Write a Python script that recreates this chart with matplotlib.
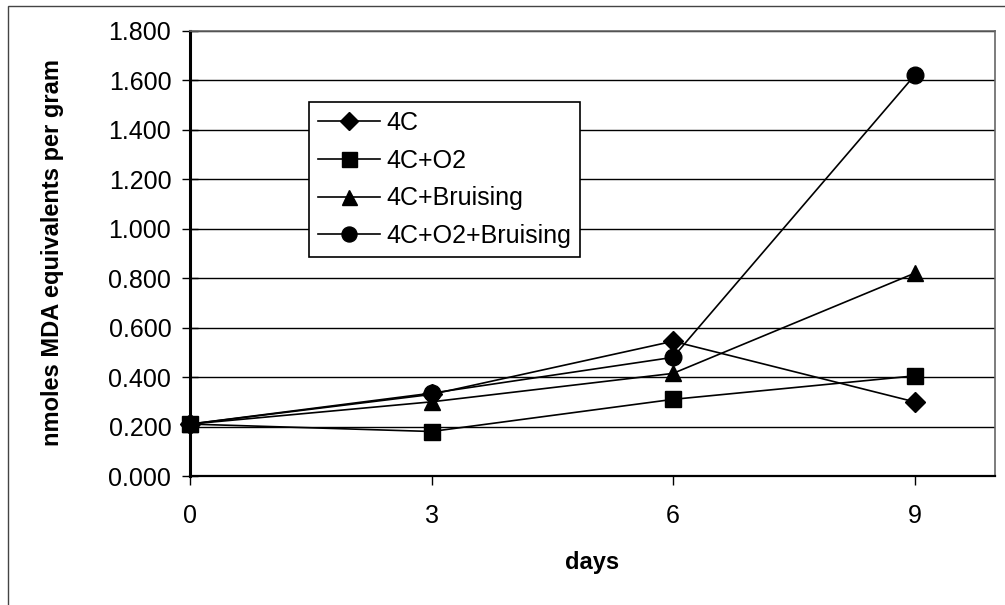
import matplotlib.pyplot as plt
from matplotlib.patches import Rectangle

plt.rcParams['font.family'] = ['Liberation Sans', 'DejaVu Sans']

days = [0, 3, 6, 9]
labels = ["4C", "4C+O2", "4C+Bruising", "4C+O2+Bruising"]
mda_4c = [0.21, 0.33, 0.545, 0.30]
mda_4c_o2 = [0.21, 0.18, 0.31, 0.405]
mda_4c_bruising = [0.21, 0.30, 0.415, 0.82]
mda_4c_o2_bruising = [0.21, 0.335, 0.48, 1.62]
markers = ["D", "s", "^", "o"]
x_ticks = [0, 3, 6, 9]
y_ticks = [0.0, 0.2, 0.4, 0.6, 0.8, 1.0, 1.2, 1.4, 1.6, 1.8]

W, H = 1005, 605
fig = plt.figure(figsize=(W / 100, H / 100), dpi=100)
# plot area in pixels: left 190, right 995, top 31, bottom 476
ax = fig.add_axes([190 / W, 1 - 476 / H, (995 - 190) / W, (476 - 31) / H])

series = [mda_4c, mda_4c_o2, mda_4c_bruising, mda_4c_o2_bruising]
for vals, m, lab in zip(series, markers, labels):
    ms = 10 if m == "D" else 12
    ax.plot(days, vals, color="black", lw=1.2, marker=m, markersize=ms,
            markerfacecolor="black", markeredgecolor="black", label=lab, clip_on=False)

ax.set_xlim(0, 10)
ax.set_ylim(0, 1.8)
ax.set_xticks(x_ticks)
ax.set_yticks(y_ticks)
ax.set_yticklabels(["%.3f" % v for v in y_ticks])
ax.tick_params(axis="both", labelsize=18, colors="black")
ax.tick_params(axis="y", direction="inout", length=11, width=1, pad=8)
ax.tick_params(axis="x", direction="out", length=6.5, width=1, pad=14)
ax.yaxis.grid(True, color="black", lw=1)
ax.set_axisbelow(True)

ax.spines["left"].set_linewidth(2.2)
ax.spines["bottom"].set_linewidth(1.6)
for s in ["top", "right"]:
    ax.spines[s].set_color("#666666")
    ax.spines[s].set_linewidth(1.2)

fig.text(592 / W, 1 - 563 / H, "days", fontsize=17, fontweight="bold",
         ha="center", va="center")
fig.text(53 / W, 1 - 253 / H, "nmoles MDA equivalents per gram", fontsize=17,
         fontweight="bold", rotation=90, ha="center", va="center")

leg = ax.legend(loc="upper left", bbox_to_anchor=((309 - 190) / 805, 1 - (102 - 31) / 445),
                fontsize=18, frameon=True, fancybox=False, framealpha=1,
                edgecolor="black", borderpad=0.35, labelspacing=0.55,
                handlelength=2.5, handletextpad=0.25, borderaxespad=0, markerscale=0.9)
leg.get_frame().set_linewidth(1.2)

# outer chart border (right and bottom run off the scan)
fig.patches.append(Rectangle((8 / W, -0.05), 1.2, 1 - 6 / H + 0.05, fill=False,
                             edgecolor="#444444", lw=1, transform=fig.transFigure))

fig.savefig("out.png", dpi=100)
